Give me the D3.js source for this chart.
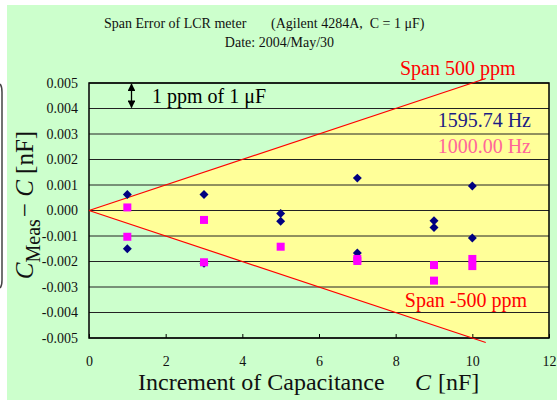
<!DOCTYPE html>
<html>
<head>
<meta charset="utf-8">
<script src="https://cdn.jsdelivr.net/npm/d3@7"></script>
<style>
  body { margin: 0; background: #fff; }
  svg { display: block; font-family: "Liberation Serif", "Times New Roman", serif; }
</style>
</head>
<body>
<svg width="557" height="400"></svg>
<script>
/* ===============================
   Data
   =============================== */
let xTicks = [0, 2, 4, 6, 8, 10, 12];
let yTicks = [-0.005, -0.004, -0.003, -0.002, -0.001, 0, 0.001, 0.002, 0.003, 0.004, 0.005];

// 1595.74 Hz (navy diamonds)
let hiC = [1, 1, 3, 3, 5, 5, 7, 7, 9, 9, 10, 10];
let hiV = [0.00063, -0.0015, 0.00063, -0.00207, -0.00012, -0.00042, 0.00127, -0.00167, -0.0004, -0.00067, 0.00096, -0.00108];

// 1000.00 Hz (magenta squares)
let loC = [1, 1, 3, 3, 5, 7, 7, 9, 9, 10, 10];
let loV = [0.00012, -0.00103, -0.00037, -0.00203, -0.00142, -0.0019, -0.00198, -0.00214, -0.00275, -0.0019, -0.00218];

// span lines (ppm of C) and the shaded region between them
let spanPpm = [500, -500];
let spanEnd = 10.35;
let regionC = [0, 10, 12, 12, 10];
let regionV = [0, 0.005, 0.005, -0.005, -0.005];

/* ===============================
   Layout
   =============================== */
let svg = d3.select("svg");
let plotL = 89, plotR = 549, plotT = 83, plotB = 338;

let x = d3.scaleLinear().domain([0, 12]).range([plotL, plotR]);
let y = d3.scaleLinear().domain([-0.005, 0.005]).range([plotB, plotT]);

/* ===============================
   Background
   =============================== */
svg.append("rect")
    .attr("x", 7).attr("y", 5)
    .attr("width", 550).attr("height", 395)
    .attr("fill", "#ccffcc");

svg.append("path")
    .attr("d", "M0,84 Q2,86 2,92 L2,280 Q2,286 0,288")
    .attr("fill", "none")
    .attr("stroke", "#444")
    .attr("stroke-width", 1.5);

svg.append("clipPath").attr("id", "plotClip")
  .append("rect")
    .attr("x", plotL).attr("y", plotT)
    .attr("width", plotR - plotL).attr("height", plotB - plotT);

svg.append("polygon")
    .attr("points", regionC.map((c, i) => x(c) + "," + y(regionV[i])).join(" "))
    .attr("fill", "#ffff99")
    .attr("clip-path", "url(#plotClip)");

/* ===============================
   Grid + axes
   =============================== */
svg.append("g")
    .selectAll("line")
    .data(yTicks)
    .join("line")
    .attr("x1", plotL).attr("x2", plotR)
    .attr("y1", d => y(d)).attr("y2", d => y(d))
    .attr("stroke", "#222")
    .attr("stroke-width", 1);

let fmt = d3.format(".3f");

let yAxis = svg.append("g")
    .attr("transform", "translate(" + plotL + ",0)")
    .call(d3.axisLeft(y).tickValues(yTicks).tickSize(0).tickPadding(11)
        .tickFormat(d => fmt(d).replace("\u2212", "-")));

let xAxis = svg.append("g")
    .attr("transform", "translate(0," + plotB + ")")
    .call(d3.axisBottom(x).tickValues(xTicks).tickSizeInner(-4).tickSizeOuter(0).tickPadding(18));

[yAxis, xAxis].forEach(a => {
    a.select(".domain").remove();
    a.selectAll("text")
        .attr("font-family", "Liberation Serif, Times New Roman, serif")
        .attr("font-size", 14)
        .attr("fill", "#111");
    a.selectAll("line").attr("stroke", "#000");
});

svg.append("rect")
    .attr("x", plotL).attr("y", plotT)
    .attr("width", plotR - plotL).attr("height", plotB - plotT)
    .attr("fill", "none")
    .attr("stroke", "#000")
    .attr("stroke-width", 1.5);

/* ===============================
   Span lines
   =============================== */
spanPpm.forEach(p => {
    svg.append("line")
        .attr("x1", x(0)).attr("y1", y(0))
        .attr("x2", x(spanEnd)).attr("y2", y(p * 1e-6 * spanEnd))
        .attr("stroke", "#ff0000")
        .attr("stroke-width", 1.2);
});

/* ===============================
   Points (diamonds under squares)
   =============================== */
svg.append("g")
    .selectAll("path")
    .data(hiC)
    .join("path")
    .attr("d", d3.symbol().type(d3.symbolSquare).size(40))
    .attr("transform", (d, i) => "translate(" + x(d) + "," + y(hiV[i]) + ") rotate(45)")
    .attr("fill", "#000080");

svg.append("g")
    .selectAll("rect")
    .data(loC)
    .join("rect")
    .attr("x", d => x(d) - 4)
    .attr("y", (d, i) => y(loV[i]) - 4)
    .attr("width", 8).attr("height", 8)
    .attr("fill", "#ff00ff");

/* ===============================
   "1 ppm of 1 uF" marker
   =============================== */
svg.append("defs").append("marker")
    .attr("id", "head")
    .attr("viewBox", "0 0 10 10")
    .attr("refX", 9).attr("refY", 5)
    .attr("markerWidth", 6).attr("markerHeight", 6)
    .attr("orient", "auto-start-reverse")
  .append("path")
    .attr("d", "M0,0 L10,5 L0,10 Z")
    .attr("fill", "#000");

svg.append("line")
    .attr("x1", 131.5).attr("x2", 131.5)
    .attr("y1", y(0.005) + 1).attr("y2", y(0.004) - 1)
    .attr("stroke", "#000")
    .attr("stroke-width", 1.3)
    .attr("marker-start", "url(#head)")
    .attr("marker-end", "url(#head)");

svg.append("text")
    .attr("x", 152).attr("y", 103)
    .attr("font-size", 20)
    .attr("fill", "#000")
    .text("1 ppm of 1 \u03bcF");

/* ===============================
   Labels
   =============================== */
svg.append("text")
    .attr("x", 400).attr("y", 75)
    .attr("font-size", 20)
    .attr("fill", "#ff0000")
    .text("Span 500 ppm");

svg.append("text")
    .attr("x", 527).attr("y", 307)
    .attr("text-anchor", "end")
    .attr("font-size", 20)
    .attr("fill", "#ff0000")
    .text("Span -500 ppm");

svg.append("text")
    .attr("x", 531).attr("y", 127)
    .attr("text-anchor", "end")
    .attr("font-size", 20)
    .attr("fill", "#1c1c84")
    .text("1595.74 Hz");

svg.append("text")
    .attr("x", 531).attr("y", 153)
    .attr("text-anchor", "end")
    .attr("font-size", 20)
    .attr("fill", "#ff6699")
    .text("1000.00 Hz");

/* ===============================
   Title
   =============================== */
let title = svg.append("text")
    .attr("y", 28)
    .attr("font-size", 14)
    .attr("fill", "#111");
title.append("tspan").attr("x", 104).text("Span Error of LCR meter");
title.append("tspan").attr("x", 271).text("(Agilent 4284A,\u00a0 C = 1 \u03bcF)");

svg.append("text")
    .attr("x", 279.5).attr("y", 47)
    .attr("text-anchor", "middle")
    .attr("font-size", 14)
    .attr("fill", "#111")
    .text("Date: 2004/May/30");

/* ===============================
   Axis titles
   =============================== */
let xTitle = svg.append("text")
    .attr("y", 390)
    .attr("font-size", 24)
    .attr("fill", "#111");
xTitle.append("tspan").attr("x", 138).text("Increment of Capacitance");
xTitle.append("tspan").attr("x", 415).attr("font-style", "italic").text("C");
xTitle.append("tspan").attr("x", 438).text("[nF]");

let yTitle = svg.append("text")
    .attr("transform", "translate(33,205) rotate(-90)")
    .attr("text-anchor", "middle")
    .attr("font-size", 25)
    .attr("fill", "#111");
yTitle.append("tspan").attr("font-style", "italic").text("C");
yTitle.append("tspan").attr("font-size", 20).attr("dy", 7).text("Meas");
yTitle.append("tspan").attr("dy", -7).attr("dx", 2).text("\u2212 ");
yTitle.append("tspan").attr("font-style", "italic").text("C");
yTitle.append("tspan").text(" [nF]");
</script>
</body>
</html>
